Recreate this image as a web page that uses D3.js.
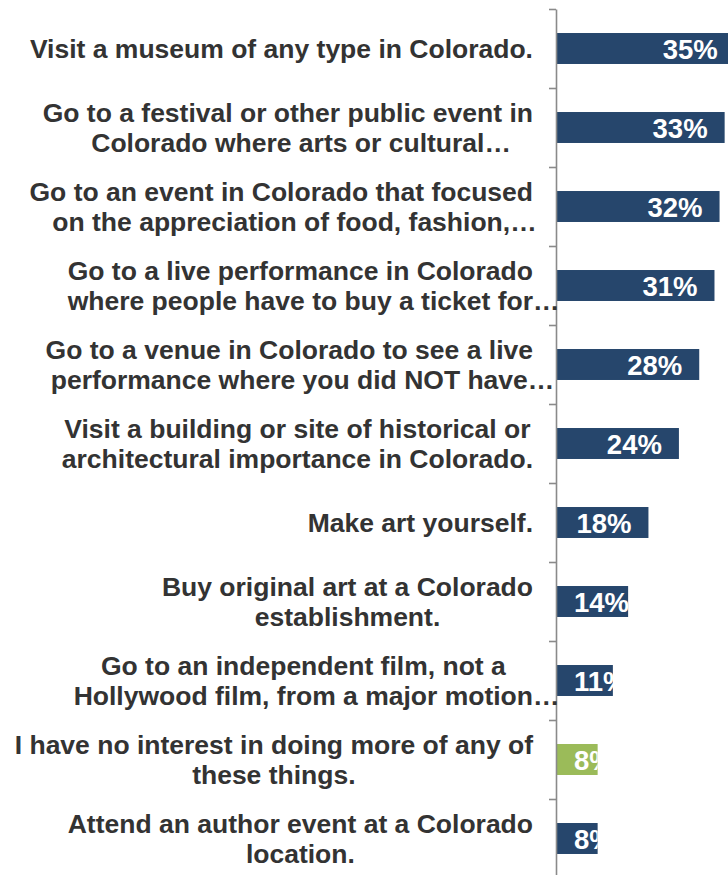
<!DOCTYPE html>
<html>
<head>
<meta charset="utf-8">
<script src="https://cdn.jsdelivr.net/npm/d3@7"></script>
<style>
  html, body { margin: 0; padding: 0; background: #ffffff; }
  svg { display: block; }
</style>
</head>
<body>
<svg id="chart" width="728" height="875"></svg>
<script>
// Activities people would like to do more of, share of respondents (%)
const categories = [
  ["Visit a museum of any type in Colorado."],
  ["Go to a festival or other public event in", "Colorado where arts or cultural…"],
  ["Go to an event in Colorado that focused", "on the appreciation of food, fashion,…"],
  ["Go to a live performance in Colorado", "where people have to buy a ticket for…"],
  ["Go to a venue in Colorado to see a live", "performance where you did NOT have…"],
  ["Visit a building or site of historical or", "architectural importance in Colorado."],
  ["Make art yourself."],
  ["Buy original art at a Colorado", "establishment."],
  ["Go to an independent film, not a", "Hollywood film, from a major motion…"],
  ["I have no interest in doing more of any of", "these things."],
  ["Attend an author event at a Colorado", "location."]
];
const values = [35, 33, 32, 31, 28, 24, 18, 14, 11, 8, 8];
// the "no interest" answer is set apart from the activities
const highlighted = [false, false, false, false, false, false, false, false, false, true, false];

const NAVY = "#26466c";
const GREEN = "#9bbb59";
const TEXT = "#333333";
const AXIS = "#8a8a8a";
const FONT = "'Liberation Sans', Arial, Helvetica, sans-serif";

const svg = d3.select("#chart");
const ids = d3.range(categories.length);

const axisX = 556;
const x = d3.scaleLinear().domain([0, 35]).range([557, 557 + 177.8]);
const y = d3.scaleBand().domain(ids).range([9, 878]).paddingInner(0.608).paddingOuter(0.304);

// bars
const bars = svg.append("g").selectAll("g.bar")
  .data(ids)
  .join("g")
  .attr("class", "bar");

bars.append("clipPath")
  .attr("id", i => "clip" + i)
  .append("rect")
  .attr("x", x(0))
  .attr("y", i => y(i))
  .attr("width", i => x(values[i]) - x(0))
  .attr("height", y.bandwidth());

bars.append("rect")
  .attr("x", x(0))
  .attr("y", i => y(i))
  .attr("width", i => x(values[i]) - x(0))
  .attr("height", y.bandwidth())
  .attr("fill", i => highlighted[i] ? GREEN : NAVY);

// value labels, inside the bar end, clipped to the bar
bars.append("text")
  .attr("clip-path", i => "url(#clip" + i + ")")
  .attr("y", i => y(i) + y.bandwidth() / 2)
  .attr("dy", "0.37em")
  .attr("fill", "#ffffff")
  .attr("font-family", FONT)
  .attr("font-weight", "bold")
  .attr("font-size", "27.5px")
  .text(i => values[i] + "%")
  .each(function (i) {
    const w = this.getComputedTextLength();
    const end = x(values[i]);
    const len = end - x(0);
    // short bars keep a smaller inset at the base
    const inset = len < w ? 7 : 17;
    const left = Math.max(end - 17 - w, x(0) + inset);
    d3.select(this).attr("x", left);
  });

// axis with ticks between categories
const boundary = d3.scaleLinear().domain([0, categories.length]).range([9, 878]);
const axis = d3.axisLeft(boundary)
  .tickValues(d3.range(categories.length + 1))
  .tickSize(7)
  .tickSizeOuter(0)
  .tickFormat("");
const ag = svg.append("g").attr("transform", `translate(${axisX},0)`).call(axis);
ag.selectAll("path, line").attr("stroke", AXIS).attr("stroke-width", 1.6);

// category labels: lines centred on each other, block right-aligned to the axis
const labelRight = 533;
const lineGap = 30;
const labels = svg.append("g")
  .attr("font-family", FONT)
  .attr("font-weight", "bold")
  .attr("font-size", "26.5px")
  .attr("fill", TEXT);

ids.forEach(i => {
  const lines = categories[i];
  const cy = y(i) + y.bandwidth() / 2;
  const g = labels.append("g");
  const nodes = lines.map((ln, k) => {
    const core = ln.endsWith("…") ? ln.slice(0, -1) : ln;
    const t = g.append("text")
      .attr("y", cy + (k - (lines.length - 1) / 2) * lineGap)
      .attr("dy", "0.35em")
      .text(core);
    const w = t.node().getComputedTextLength();
    return { t, w, ln, core };
  });
  const maxW = d3.max(nodes, d => d.w);
  const cx = labelRight - maxW / 2;
  nodes.forEach(d => {
    d.t.attr("x", cx - d.w / 2).attr("text-anchor", "start");
    if (d.ln !== d.core) d.t.text(d.ln);
  });
});
</script>
</body>
</html>
